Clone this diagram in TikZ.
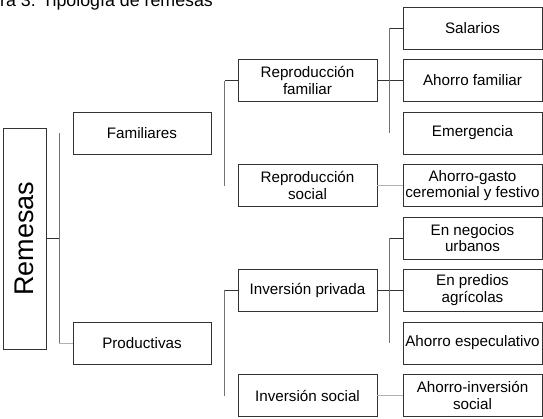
\documentclass[tikz,border=0pt]{standalone}
\usepackage{fontspec}
\setmainfont{Liberation Sans}
\usepackage{tikz}
\usetikzlibrary{calc}
\tikzset{
 caja/.style={draw=black!80,line width=0.9pt,minimum width=139pt,minimum height=42pt,inner sep=0pt,align=center,font=\fontsize{15.2}{16.5}\selectfont},
 liga/.style={black!80,line width=0.8pt},
 barra/.style={black!55,line width=0.9pt},
 tenue/.style={black!30,line width=0.8pt}
}
\begin{document}
\begin{tikzpicture}[x=1pt,y=-1pt]
\useasboundingbox(0,0)rectangle(543,418);
\clip(0,0)rectangle(543,418);
\node[anchor=base west,inner sep=0pt,font=\fontsize{17.8}{20}\selectfont](titulo)at(0,6){ra 3. Tipología de remesas};
\node[draw=black!80,line width=0.9pt,minimum width=221pt,minimum height=43pt,inner sep=0pt,rotate=90,font=\fontsize{27}{30}\selectfont](rem)at(24.5,238.5){Remesas};
\node[caja,minimum width=138pt](fam)at(142,133){Familiares};
\node[caja,minimum width=138pt](prod)at(142,343){Productivas};
\node[caja](rf)at(307.5,80.5){Reproducción\\familiar};
\node[caja](rs)at(307.5,185.5){Reproducción\\social};
\node[caja](ip)at(307.5,290){Inversión privada};
\node[caja](is)at(307.5,395.5){Inversión social};
\node[caja](sal)at(472.5,28){Salarios};
\node[caja](af)at(472.5,80.5){Ahorro familiar};
\node[caja](em)at(472.5,133){Emergencia};
\node[caja](ag)at(472.5,185.5){Ahorro-gasto\\ceremonial y festivo};
\node[caja](neg)at(472.5,238){En negocios\\urbanos};
\node[caja](pre)at(472.5,290){En predios\\agrícolas};
\node[caja](esp)at(472.5,343){Ahorro especulativo};
\node[caja](ais)at(472.5,395.5){Ahorro-inversión\\social};
\draw[liga](rem.south)--++(13,0)coordinate(k1);
\draw[barra](k1|-fam.west)--(k1|-prod.west);
\draw[tenue](k1|-prod.west)--(prod.west);
\draw[liga](rf.west)--++(-13,0)coordinate(k2);
\draw[barra](k2)--(k2|-rs.west);
\draw[liga](ip.west)--++(-13,0)coordinate(k4);
\draw[barra](k4)--(k4|-is.west);
\draw[liga](rf.east)--(af.west);
\draw[liga](sal.west)--++(-13,0)coordinate(k3);
\draw[barra](k3)--(k3|-em.west);
\draw[tenue](rs.east)--(ag.west);
\draw[liga](ip.east)--(pre.west);
\draw[liga](neg.west)--++(-13,0)coordinate(k5);
\draw[barra](k5)--(k5|-esp.west);
\draw[tenue](is.east)--(ais.west);
\end{tikzpicture}
\end{document}
